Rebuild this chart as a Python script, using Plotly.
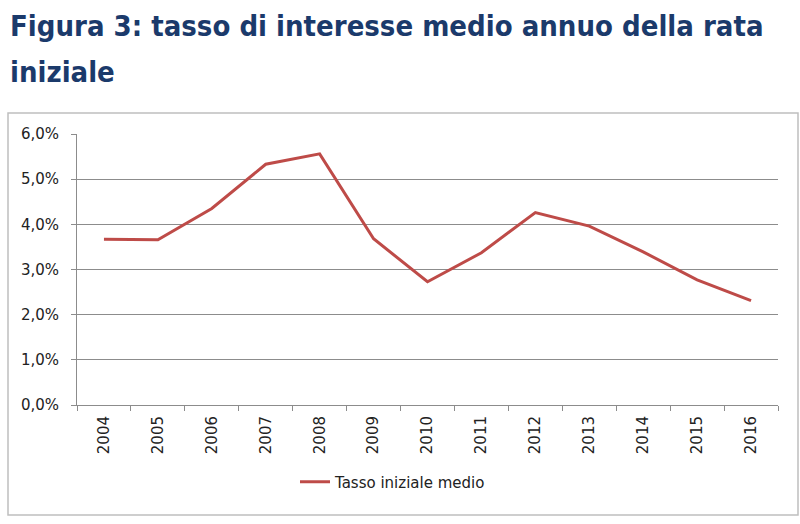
import plotly.graph_objects as go

# Figura 3 - tasso di interesse medio annuo della rata iniziale
anni = ["2004", "2005", "2006", "2007", "2008", "2009", "2010",
        "2011", "2012", "2013", "2014", "2015", "2016"]
tasso = [3.67, 3.66, 4.35, 5.33, 5.56, 3.68, 2.73,
         3.37, 4.26, 3.96, 3.39, 2.77, 2.31]
y_ticks = [0, 1, 2, 3, 4, 5, 6]
y_labels = ["0,0%", "1,0%", "2,0%", "3,0%", "4,0%", "5,0%", "6,0%"]
titolo = ["Figura 3: tasso di interesse medio annuo della rata", "iniziale"]

W, H = 800, 524
# plot area in pixels
L, R, T, B = 77, 778, 134, 405


def px_x(p):
    return (p - L) / (R - L)


def px_y(p):
    return (B - p) / (B - T)


fig = go.Figure()
fig.add_trace(go.Scatter(x=anni, y=tasso, mode="lines", name="Tasso iniziale medio",
                         line=dict(color="#BE4B48", width=3)))

fig.update_layout(
    width=W, height=H,
    margin=dict(l=L, r=W - R, t=T, b=H - B),
    paper_bgcolor="white", plot_bgcolor="white",
    font=dict(family="DejaVu Sans, sans-serif", size=15, color="#222222"),
    showlegend=True,
    legend=dict(orientation="h", x=px_x(393), y=px_y(482), xanchor="center", yanchor="middle",
                font=dict(size=15)),
    xaxis=dict(type="category", range=[-0.5, len(anni) - 0.5], tickangle=-90,
               showgrid=False, showline=True,
               linecolor="#8C8C8C", linewidth=1, ticks="outside", ticklen=5,
               tickcolor="#8C8C8C", tickson="boundaries", fixedrange=True,
               ticklabelstandoff=4),
    yaxis=dict(range=[0, 6], tickvals=y_ticks, ticktext=y_labels,
               showgrid=True, gridcolor="#8C8C8C", gridwidth=1, zeroline=False,
               showline=True, linecolor="#8C8C8C", ticks="outside", ticklen=5,
               tickcolor="#8C8C8C", ticklabelstandoff=9),
    shapes=[dict(type="rect", xref="paper", yref="paper",
                 x0=px_x(8), x1=px_x(798), y0=px_y(515), y1=px_y(113),
                 line=dict(color="#BFBFBF", width=1.5), layer="below")],
)

# title as two lines, placed separately to keep the original line spacing
for riga, yc in zip(titolo, [26, 72]):
    fig.add_annotation(text=riga, xref="paper", yref="paper", x=px_x(8), y=px_y(yc),
                       xanchor="left", yanchor="middle", align="left", showarrow=False,
                       font=dict(family="DejaVu Sans Condensed, sans-serif",
                                 size=29, color="#1B3A6B", weight="bold"))

# page body has a default 8px margin; drop it so the figure fills the window
fig.write_html("out.html", config={"displayModeBar": False},
               post_script="document.body.style.margin='0';")
